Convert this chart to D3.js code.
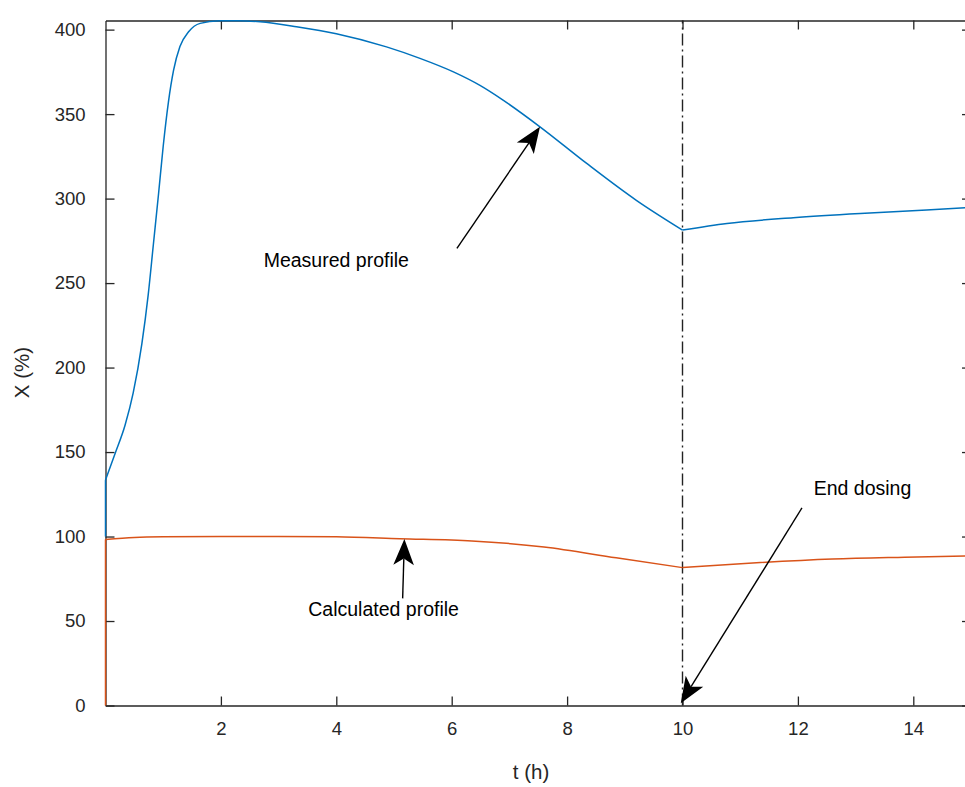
<!DOCTYPE html>
<html>
<head>
<meta charset="utf-8">
<script src="https://cdn.jsdelivr.net/npm/d3@7"></script>
<style>
  body { margin: 0; background: #fff; overflow: hidden; }
  svg { display: block; }
  text { font-family: "Liberation Sans", Arial, Helvetica, sans-serif; }
</style>
</head>
<body>
<svg id="chart" width="965" height="787"></svg>
<script>
// Measured X profile (%) over time (h)
const measuredT = [0, 0, 0.165, 0.34, 0.48, 0.63, 0.74, 0.83, 0.92, 1.0, 1.09, 1.18, 1.29, 1.44, 1.64, 1.98, 2.3, 2.68, 3.31, 4.0, 4.87, 5.45, 6.03, 6.49, 6.89, 7.53, 8.34, 9.2, 10, 10.77, 11.92, 13.08, 14.23, 15];
const measuredX = [100, 133.4, 149, 166, 185, 214, 243, 273, 303, 331, 357, 376, 390, 398.7, 403.7, 405.2, 405.3, 404.6, 401.7, 397.6, 389.8, 383, 375, 367, 358.3, 342.5, 320.8, 299, 281.4, 285.3, 288.7, 291.2, 293.2, 294.8];

// Calculated X profile (%) over time (h)
const calculatedT = [0, 0, 0.5, 1, 2, 3, 4, 5.1, 6.35, 7.6, 8.85, 10, 11.35, 12.6, 13.85, 15];
const calculatedX = [0, 98.3, 99.4, 99.8, 100, 100, 99.8, 98.7, 97.4, 93.8, 87.4, 81.6, 84.6, 86.7, 87.8, 88.6];

// End of dosing
const endDosingT = 10;

// Axis ticks
const xTicks = [2, 4, 6, 8, 10, 12, 14];
const yTicks = [0, 50, 100, 150, 200, 250, 300, 350, 400];
const xDomain = [0, 15];
const yDomain = [0, 405.4];

// Annotations: label text, label anchor and arrow tail/tip in data units
const annLabels = ["Measured profile", "Calculated profile", "End dosing"];
const annLabelT = [4.0, 4.82, 13.12];
const annLabelX = [259.5, 52.8, 124.8];
const annTailT = [6.09, 5.15, 12.07];
const annTailX = [270.5, 63.4, 116.9];
const annTipT = [7.53, 5.18, 9.97];
const annTipX = [342.5, 98.5, 1.3];

const axisColor = "#262626";
const blue = "#0072BD";
const orange = "#D95319";

const margin = { left: 105.5, top: 20.5, right: 971, bottom: 705.5 };
const svg = d3.select("#chart");

const x = d3.scaleLinear().domain(xDomain).range([margin.left, margin.right]);
const y = d3.scaleLinear().domain(yDomain).range([margin.bottom, margin.top]);

// Series: split at vertical jumps and at the end of dosing so the kink stays sharp
function drawSeries(ts, vs, color) {
  const pts = ts.map((t, i) => [t, vs[i]]);
  const segs = [];
  let cur = [];
  pts.forEach((p, i) => {
    if (i > 0 && p[0] === pts[i - 1][0]) {
      segs.push({ pts: [pts[i - 1], p], curve: d3.curveLinear });
      cur = [p];
      return;
    }
    cur.push(p);
    if (p[0] === endDosingT) {
      segs.push({ pts: cur, curve: d3.curveMonotoneX });
      cur = [p];
    }
  });
  if (cur.length > 1) segs.push({ pts: cur, curve: d3.curveMonotoneX });
  segs.forEach(s => {
    const line = d3.line().x(d => x(d[0])).y(d => y(d[1])).curve(s.curve);
    svg.append("path")
      .attr("d", line(s.pts))
      .attr("fill", "none")
      .attr("stroke", color)
      .attr("stroke-width", 1.5)
      .attr("stroke-linejoin", "round");
  });
}

// Axes (ticks point inward, box on)
const gx = svg.append("g").attr("transform", `translate(0,${margin.bottom})`)
  .call(d3.axisBottom(x).tickValues(xTicks).tickFormat(d3.format("d")).tickSizeInner(-9).tickSizeOuter(0).tickPadding(16));
const gy = svg.append("g").attr("transform", `translate(${margin.left},0)`)
  .call(d3.axisLeft(y).tickValues(yTicks).tickFormat(d3.format("d")).tickSizeInner(-9).tickSizeOuter(0).tickPadding(20));
const gxt = svg.append("g").attr("transform", `translate(0,${margin.top})`)
  .call(d3.axisTop(x).tickValues(xTicks).tickFormat("").tickSizeInner(-9).tickSizeOuter(0));
const gyr = svg.append("g").attr("transform", `translate(${margin.right},0)`)
  .call(d3.axisRight(y).tickValues(yTicks).tickFormat("").tickSizeInner(-9).tickSizeOuter(0));

[gx, gy, gxt, gyr].forEach(g => {
  g.selectAll(".domain").attr("stroke", axisColor).attr("stroke-width", 1.3);
  g.selectAll(".tick line").attr("stroke", axisColor).attr("stroke-width", 1.3);
  g.selectAll(".tick text").attr("fill", axisColor).attr("font-size", 18.5)
    .attr("font-family", "'Liberation Sans', Arial, sans-serif");
});

// Axis titles
svg.append("text")
  .attr("x", 531)
  .attr("y", 779)
  .attr("text-anchor", "middle")
  .attr("font-size", 20.5)
  .attr("fill", axisColor)
  .text("t (h)");
svg.append("text")
  .attr("transform", `translate(29,372.5) rotate(-90)`)
  .attr("text-anchor", "middle")
  .attr("font-size", 20.5)
  .attr("fill", axisColor)
  .text("X (%)");

// End dosing marker
svg.append("line")
  .attr("x1", x(endDosingT)).attr("x2", x(endDosingT))
  .attr("y1", y(yDomain[0])).attr("y2", y(yDomain[1]))
  .attr("stroke", "#222")
  .attr("stroke-width", 1.4)
  .attr("stroke-dasharray", "12,4,2,4");

drawSeries(measuredT, measuredX, blue);
drawSeries(calculatedT, calculatedX, orange);

// Annotation arrows with notched heads
function arrow(x1, y1, x2, y2) {
  const L = 26, W = 10.3, notch = 19.5;
  const dx = x2 - x1, dy = y2 - y1;
  const len = Math.hypot(dx, dy);
  const ux = dx / len, uy = dy / len;
  const px = -uy, py = ux;
  const bx = x2 - ux * L, by = y2 - uy * L;
  const nx = x2 - ux * notch, ny = y2 - uy * notch;
  svg.append("line")
    .attr("x1", x1).attr("y1", y1).attr("x2", nx).attr("y2", ny)
    .attr("stroke", "#000").attr("stroke-width", 1.4);
  svg.append("path")
    .attr("d", `M${x2},${y2}L${bx + px * W},${by + py * W}L${nx},${ny}L${bx - px * W},${by - py * W}Z`)
    .attr("fill", "#000");
}

annLabels.forEach((lab, i) => {
  arrow(x(annTailT[i]), y(annTailX[i]), x(annTipT[i]), y(annTipX[i]));
  svg.append("text")
    .attr("x", x(annLabelT[i]))
    .attr("y", y(annLabelX[i]))
    .attr("text-anchor", "middle")
    .attr("font-size", 19.5)
    .attr("fill", "#000")
    .text(lab);
});
</script>
</body>
</html>
